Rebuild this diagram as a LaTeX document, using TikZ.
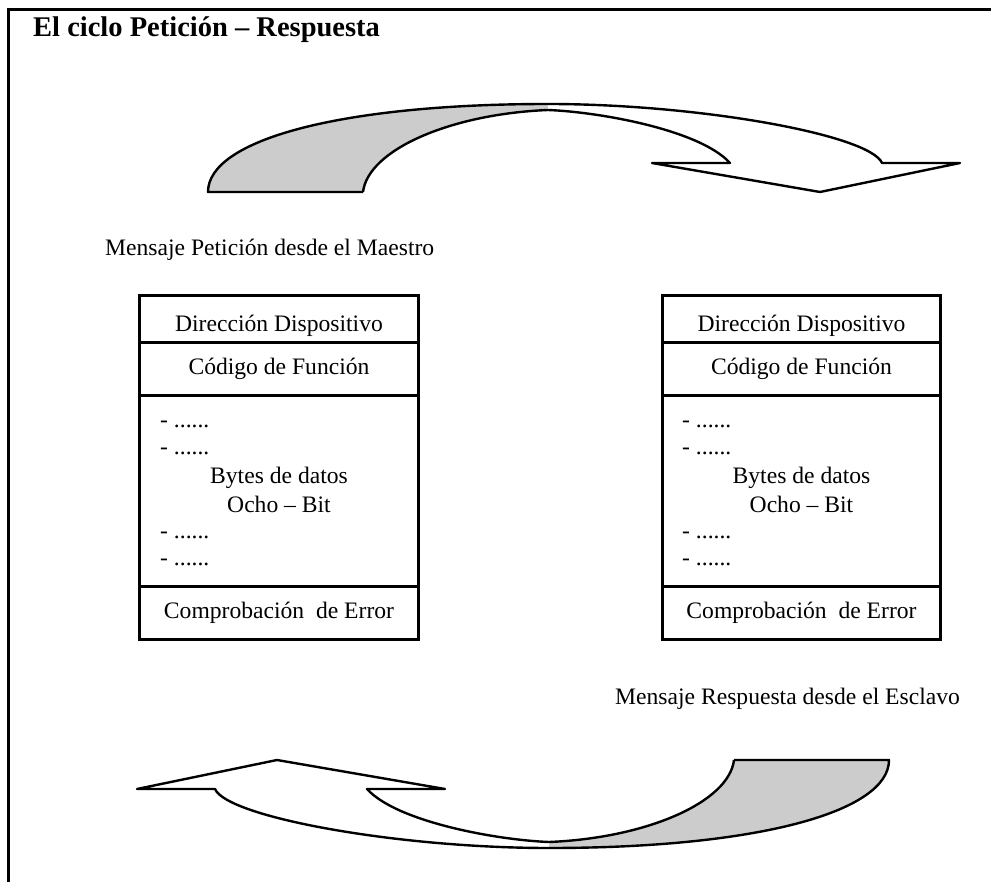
\documentclass[tikz,border=0pt]{standalone}
\usepackage{fontspec}
\setmainfont{Liberation Serif}
\definecolor{bandgray}{HTML}{CCCCCC}

% One curved band arrow: shaded rising tail, white falling part with head.
% The two parts are filled first, then the outline is stroked on top.
\newcommand\drawcyclearrow{%
  \fill[bandgray]
    (208,192) .. controls (208,140) and (340,104) .. (548,104)
    -- (548,110) .. controls (450,114) and (368,150) .. (363,192) -- cycle;
  \fill[white]
    (548,104) .. controls (700,104) and (870,135) .. (882,163)
    -- (960,163) -- (820,192) -- (652,163) -- (730,163)
    .. controls (700,130) and (600,112) .. (548,110) -- cycle;
  \draw[band]
    (363,192) -- (208,192) .. controls (208,140) and (340,104) .. (548,104)
    .. controls (700,104) and (870,135) .. (882,163)
    -- (960,163) -- (820,192) -- (652,163) -- (730,163)
    .. controls (700,130) and (600,112) .. (548,110);
  \draw[band]
    (363,192) .. controls (368,150) and (450,114) .. (548,110);
}

\begin{document}
\begin{tikzpicture}[x=1pt, y=-1pt,
  frameline/.style={line width=3pt},
  rowbox/.style={draw, line width=3pt, minimum width=278.5pt, inner sep=0pt},
  band/.style={line width=2.4pt, line join=round},
  lbl/.style={inner sep=0pt, font=\fontsize{23.6}{28}\selectfont},
  titlefont/.style={inner sep=0pt, font=\fontsize{28.5}{34}\selectfont\bfseries}]

\useasboundingbox (0,0) rectangle (991,882);
\fill[white] (0,0) rectangle (991,882);

% page frame: top and left rules
\coordinate (fr-r) at (991,10);
\coordinate (fr-c) at (8,10);
\coordinate (fr-b) at (8,882);
\draw[frameline] (fr-r) -- (fr-c) -- (fr-b);

\node[titlefont, anchor=base west] (title) at (33,37) {El ciclo Petición – Respuesta};

% request arrow (top) and response arrow (bottom, turned half a turn)
\drawcyclearrow
\begin{scope}[rotate around={180:(548.5,476)}]
  \drawcyclearrow
\end{scope}

\node[lbl, anchor=base west] (req) at (105,256) {Mensaje Petición desde el Maestro};
\node[lbl, anchor=base west] (resp) at (615,704) {Mensaje Respuesta desde el Esclavo};

% the two message frames
\foreach \s/\cx/\lx in {m/279/160, e/801.5/682} {
  \node[rowbox, minimum height=47pt]  (\s-dir) at (\cx,319.5) {};
  \node[rowbox, minimum height=53pt]  (\s-fun) at (\cx,369.5) {};
  \node[rowbox, minimum height=190pt] (\s-dat) at (\cx,491) {};
  \node[rowbox, minimum height=53pt]  (\s-crc) at (\cx,612.5) {};

  \node[lbl, anchor=base] (\s-dirt) at (\cx,332) {Dirección Dispositivo};
  \node[lbl, anchor=base] (\s-funt) at (\cx,375) {Código de Función};
  \node[lbl, anchor=base west] (\s-d1) at (\lx,428) {- ......};
  \node[lbl, anchor=base west] (\s-d2) at (\lx,455) {- ......};
  \node[lbl, anchor=base] (\s-byt) at (\cx,483) {Bytes de datos};
  \node[lbl, anchor=base] (\s-bit) at (\cx,512) {Ocho – Bit};
  \node[lbl, anchor=base west] (\s-d3) at (\lx,538) {- ......};
  \node[lbl, anchor=base west] (\s-d4) at (\lx,565) {- ......};
  \node[lbl, anchor=base] (\s-crct) at (\cx,618) {Comprobación\ \ de Error};
}
\end{tikzpicture}
\end{document}
